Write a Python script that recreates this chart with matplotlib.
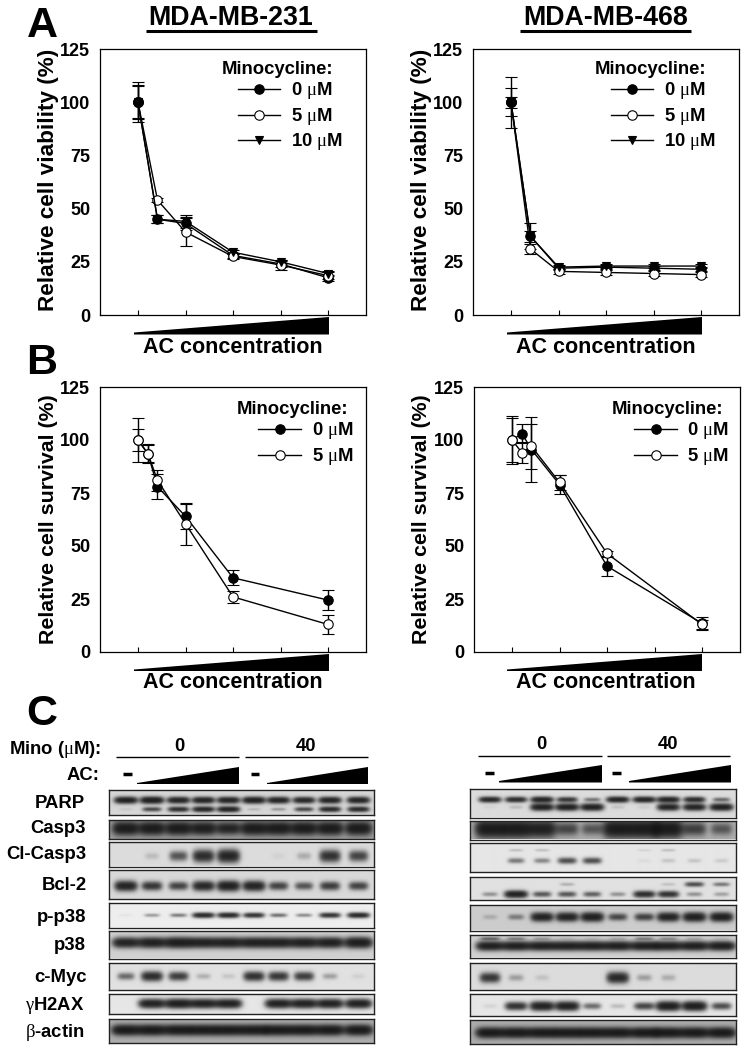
import numpy as np
import matplotlib
matplotlib.use("Agg")
import matplotlib.pyplot as plt
from matplotlib.patches import Polygon

plt.rcParams['font.family'] = ['Liberation Sans', 'DejaVu Sans']
plt.rcParams['font.weight'] = 'bold'
plt.rcParams['mathtext.fontset'] = 'custom'
plt.rcParams['mathtext.rm'] = 'Liberation Sans:bold'
plt.rcParams['mathtext.it'] = 'Liberation Serif:weight=normal'
plt.rcParams['mathtext.bf'] = 'Liberation Sans:bold'

W, H = 746, 1050

# ---- panel A, x is position along the AC ramp
x_a = [0, 0.41, 1, 2, 3, 4]
a231_0 = [100, 45, 43, 28, 24, 17.5]
a231_0_err = [9.5, 2, 3, 1, 1.5, 1.5]
a231_5 = [100, 54, 39, 27.5, 23.5, 18.5]
a231_5_err = [7.5, 1, 6.5, 1, 2.5, 1.5]
a231_10 = [100, 45, 44, 29.5, 25, 19.5]
a231_10_err = [8, 2, 3, 1, 1, 1]

a468_0 = [100, 37, 22, 22.5, 22, 21.5]
a468_0_err = [12, 6, 1, 1, 1, 1]
a468_5 = [100, 31, 20.5, 20, 19.5, 19]
a468_5_err = [6.5, 2.5, 1, 1, 1, 1]
a468_10 = [100, 37, 22.5, 23, 23, 23]
a468_10_err = [2.5, 2.5, 1, 1, 1, 1]

# ---- panel B
x_b = [0, 0.21, 0.41, 1, 2, 4]
b231_0 = [100, 93.5, 78, 64, 35, 24.5]
b231_0_err = [5, 4.5, 6, 6, 3.5, 4.7]
b231_5 = [100, 93.5, 81, 60.5, 26, 13]
b231_5_err = [10.5, 4, 5, 10, 3, 4.3]

b468_0 = [100, 103, 95.5, 79, 40.5, 13.5]
b468_0_err = [11.5, 4.5, 15.5, 4.5, 4.5, 3]
b468_5 = [100, 94, 97, 80, 46.5, 13]
b468_5_err = [10.5, 5, 10.5, 3.5, 1, 2]

yticks = [0, 25, 50, 75, 100, 125]

# ---- panel C, band strength per lane (10 lanes)
l_parp_up = [.95, 1, .9, .9, .9, .95, .9, .85, .9, .9]
l_parp_lo = [.05, .55, .75, .85, .9, .1, .2, .55, .8, .8]
l_casp3 = [.95, .95, .95, .9, .8, .95, .95, .95, .95, .95]
l_clcasp3 = [0, .1, .5, .8, .9, 0, .03, .15, .75, .6]
l_bcl2 = [.9, .7, .6, .85, .95, .9, .6, .5, .65, .6]
l_pp38 = [.03, .25, .35, .85, .85, .75, .4, .3, .75, .85]
l_p38 = [.9, .95, 1, .95, .95, .95, .95, .95, .95, 1]
l_myc = [.4, .8, .65, .15, .08, .75, .7, .65, .2, .05]
l_h2ax = [0, .95, 1, .95, .95, 0, .95, .95, .95, .95]
l_actin = [1, 1, 1, 1, 1, 1, 1, 1, 1, 1]

r_parp_up = [.85, .8, .9, .7, .35, .9, .9, .9, .8, .4]
r_parp_lo = [.03, .1, .95, .95, .95, .08, .05, .9, .9, .95]
r_casp3 = [1, 1, .9, .5, .4, 1, 1, 1, .55, .4]
r_clcasp3 = [0, .35, .3, .55, .55, 0, .03, .1, .1, .08]
r_clcasp3_up = [0, .12, .12, 0, 0, 0, .06, .12, 0, 0]
r_bcl2 = [.25, .95, .5, .5, .45, .25, .8, .75, .25, .2]
r_bcl2_up = [0, 0, 0, .15, 0, 0, 0, .1, .55, .35]
r_pp38 = [.12, .3, .9, .9, .95, .55, .6, .9, .95, .95]
r_p38 = [.95, .95, .95, .95, .95, .95, .95, .95, .95, .95]
r_p38_up = [.35, .25, .15, .05, .05, .1, .25, .2, .1, .05]
r_myc = [.7, .2, .08, 0, 0, .85, .2, .15, 0, 0]
r_h2ax = [.05, .75, .95, .95, .4, .12, .6, 1, 1, .55]
r_actin = [1, 1, 1, 1, 1, 1, 1, 1, 1, 1]

row_labels = ['PARP', 'Casp3', 'Cl-Casp3', 'Bcl-2', 'p-p38', 'p38', 'c-Myc',
              r'$\gamma$H2AX', r'$\beta$-actin']


fig = plt.figure(figsize=(W / 100, H / 100), dpi=100, facecolor='white')


def px_axes(left, top, right, bottom, **kw):
    return fig.add_axes([left / W, 1 - bottom / H, (right - left) / W, (bottom - top) / H], **kw)


# overlay in pixel coordinates for the labels, wedges and rules
ov = fig.add_axes([0, 0, 1, 1], zorder=5)
ov.set_xlim(0, W)
ov.set_ylim(H, 0)
ov.axis('off')
ov.patch.set_alpha(0)


def label(x, y, s, **kw):
    # text box centre sits a bit above the glyphs, so nudge it down
    kw.setdefault('va', 'center')
    kw.setdefault('fontsize', 13.3)
    ov.text(x, y + 1.7, s, **kw)


def wedge(x0, x1, y_tip, y_top, y_bot):
    ov.add_patch(Polygon([(x0, y_tip), (x1, y_top), (x1, y_bot), (x0, y_bot)], fc='black', ec='none'))


def curve_panel(left, top, right, bottom, x, series, ylabel, ylabel_x, ylabel_y, ylabel_size,
                black_first=False):
    ax = px_axes(left, top, right, bottom)
    ax.set_xlim(-0.8, 4.8)
    ax.set_ylim(0, 125)
    for y, err, marker, face in series:
        ax.errorbar(x, y, yerr=err, color='black', lw=1.0, elinewidth=1.0, capsize=4, capthick=1.0,
                    marker=marker, ms=6.8 if marker == 'o' else 6, mfc=face, mec='black', mew=0.8,
                    clip_on=False)
    if black_first:
        # at the first dose the filled circle covers the open one
        ax.plot(x[0], series[0][0][0], marker='o', ms=6.8, mfc='black', mec='black', zorder=5)
    ax.set_xticks([0, 1, 2, 3, 4])
    ax.set_xticklabels([])
    ax.tick_params(axis='x', direction='in', length=3.8, width=0.8)
    ax.set_yticks(yticks)
    ax.tick_params(axis='y', length=0, pad=7, labelsize=13)
    for s in ax.spines.values():
        s.set_linewidth(0.9)
    ov.text(ylabel_x, ylabel_y, ylabel, rotation=90, ha='center', va='center', fontsize=ylabel_size)
    return ax


def legend_block(head_x, head_y, line_x0, line_x1, text_x, rows):
    label(head_x, head_y, 'Minocycline:', ha='left')
    for s, y, marker, face in rows:
        ov.plot([line_x0, line_x1], [y, y], color='black', lw=1.0)
        ov.plot([(line_x0 + line_x1) / 2], [y], marker=marker, ms=6.8 if marker == 'o' else 6,
                mfc=face, mec='black', mew=0.8)
        label(text_x, y, s, ha='left')


series_a231 = [(a231_0, a231_0_err, 'o', 'black'), (a231_5, a231_5_err, 'o', 'white'),
               (a231_10, a231_10_err, 'v', 'black')]
series_a468 = [(a468_0, a468_0_err, 'o', 'black'), (a468_5, a468_5_err, 'o', 'white'),
               (a468_10, a468_10_err, 'v', 'black')]
series_b231 = [(b231_0, b231_0_err, 'o', 'black'), (b231_5, b231_5_err, 'o', 'white')]
series_b468 = [(b468_0, b468_0_err, 'o', 'black'), (b468_5, b468_5_err, 'o', 'white')]

curve_panel(100, 49, 366, 315, x_a, series_a231, 'Relative cell viability (%)', 49, 180, 16.2, True)
curve_panel(473, 49, 739, 315, x_a, series_a468, 'Relative cell viability (%)', 421.5, 180, 16.2, True)
curve_panel(100, 387, 366, 652, x_b, series_b231, 'Relative cell survival (%)', 49, 519.5, 15.4)
curve_panel(474, 387, 740, 652, x_b, series_b468, 'Relative cell survival (%)', 421.5, 519.5, 15.4)

mu0, mu5, mu10 = r'0 $\mu$M', r'5 $\mu$M', r'10 $\mu$M'
rows3 = [(mu0, 89, 'o', 'black'), (mu5, 114.5, 'o', 'white'), (mu10, 140, 'v', 'black')]
legend_block(222, 68, 238, 280, 291, rows3)
legend_block(595, 68, 611, 653, 664, rows3)
rows2 = [(mu0, 429, 'o', 'black'), (mu5, 454.5, 'o', 'white')]
legend_block(237, 408, 258, 301, 312, rows2)
legend_block(612, 408, 634, 677, 687, rows2)

# titles and panel letters
for cx, name, x0, x1 in [(231, 'MDA-MB-231', 146, 317), (606, 'MDA-MB-468', 520, 691)]:
    label(cx, 16, name, ha='center', fontsize=19.3)
    ov.plot([x0, x1], [30.5, 30.5], color='black', lw=2.2, solid_capstyle='butt')
label(42, 24, 'A', ha='center', fontsize=31)
label(42, 361, 'B', ha='center', fontsize=31)
label(42, 712, 'C', ha='center', fontsize=31)

# AC ramps under the curve panels
wedge(134, 329, 332.5, 317, 334.5)
wedge(507, 702, 332.5, 317, 334.5)
wedge(134, 329, 669.5, 654, 671)
wedge(507, 702, 669.5, 654, 671)
for cx, cy in [(233, 346), (606, 346), (233, 681), (606, 681)]:
    label(cx, cy, 'AC concentration', ha='center', fontsize=15.5)


def blot(left, top, right, bottom, lanes, bands, bg, thick=1.0):
    # lanes in px from left edge, bands = (y fraction, strengths, half height px)
    ss = 2
    w = int(round((right - left) * ss))
    h = int(round((bottom - top) * ss))
    xx = (np.arange(w) + 0.5) / ss
    yy = (np.arange(h) + 0.5) / ss
    X, Y = np.meshgrid(xx, yy)
    dark = np.zeros_like(X)
    for yf, strengths, half_h in bands:
        for xc, s in zip(lanes, strengths):
            wx = 11.5 * (0.55 + 0.45 * s) * thick
            wy = half_h * (0.45 + 0.55 * s)
            dark += 1.6 * s * np.exp(-((X - xc) / wx) ** 4) * np.exp(-((Y - yf * (bottom - top)) / wy) ** 2)
    img = bg + (0.06 - bg) * np.tanh(dark)
    ax = px_axes(left, top, right, bottom)
    ax.imshow(img, cmap='gray', vmin=0, vmax=1, aspect='auto', interpolation='bilinear')
    ax.set_xticks([])
    ax.set_yticks([])
    for s in ax.spines.values():
        s.set_linewidth(1.0)
        s.set_color('#222222')


lanes_l = [17, 43, 69.5, 94.5, 119.5, 145, 169.5, 195, 221, 249.5]
lanes_r = [20, 46, 72, 97, 122, 147.5, 174, 198, 224, 251]

blot(109, 790, 374, 815, lanes_l, [(.43, l_parp_up, 3.2), (.78, l_parp_lo, 2.8)], .84)
blot(109, 819.5, 374, 838.5, lanes_l, [(.44, l_casp3, 6.5)], .62, 1.15)
blot(109, 842, 374, 866.5, lanes_l, [(.6, l_clcasp3, 6.5)], .86)
blot(109, 870, 374, 898.5, lanes_l, [(.55, l_bcl2, 5)], .85)
blot(109, 902.5, 374, 927.5, lanes_l, [(.53, l_pp38, 2.8)], .93)
blot(109, 930.5, 374, 958.5, lanes_l, [(.47, l_p38, 5)], .82, 1.2)
blot(109, 962.5, 374, 989.5, lanes_l, [(.51, l_myc, 5)], .88)
blot(109, 994, 374, 1014, lanes_l, [(.48, l_h2ax, 4.5)], .9, 1.15)
blot(109, 1018.5, 374, 1042.5, lanes_l, [(.46, l_actin, 5)], .68, 1.2)

blot(469.5, 788.5, 736, 817.5, lanes_r, [(.40, r_parp_up, 3), (.66, r_parp_lo, 3.5)], .86)
blot(469.5, 820.5, 736, 839.5, lanes_r, [(.47, r_casp3, 8.5)], .68, 1.25)
blot(469.5, 843, 736, 872, lanes_r, [(.61, r_clcasp3, 4), (.25, r_clcasp3_up, 2.5)], .9)
blot(469.5, 877, 736, 899.5, lanes_r, [(.75, r_bcl2, 3.5), (.32, r_bcl2_up, 3)], .88)
blot(469.5, 904.5, 736, 930.5, lanes_r, [(.5, r_pp38, 4.5)], .8)
blot(469.5, 935, 736, 957.5, lanes_r, [(.52, r_p38, 4.5), (.2, r_p38_up, 2.5)], .82, 1.2)
blot(469.5, 962.5, 736, 989.5, lanes_r, [(.56, r_myc, 5.5)], .86)
blot(469.5, 994, 736, 1016, lanes_r, [(.55, r_h2ax, 4.5)], .9, 1.05)
blot(469.5, 1020, 736, 1044, lanes_r, [(.53, r_actin, 5)], .68, 1.2)

# panel C headers
label(101, 748, r'Mino ($\mu$M):', ha='right')
label(99, 774, 'AC:', ha='right')
for cx, cy, s in [(179, 745, '0'), (306, 745, '40'), (541, 743, '0'), (668, 743, '40')]:
    label(cx, cy, s, ha='center')
for x0, x1, y in [(116, 239, 757), (245, 368, 757), (478, 602, 756), (607, 730, 756)]:
    ov.plot([x0, x1], [y, y], color='black', lw=1.0, solid_capstyle='butt')
for x0, x1, y in [(123, 132, 774), (251, 259, 774), (485, 494, 773), (612, 621, 773)]:
    ov.plot([x0, x1], [y, y], color='black', lw=2.5, solid_capstyle='butt')
wedge(137, 239, 783, 767, 784)
wedge(267, 368, 783, 767, 784)
wedge(499, 602, 781, 765, 782.5)
wedge(629, 731, 781, 765, 782.5)

label_right = [85, 86, 86, 87, 86, 86, 87, 84, 85]
label_y = [802, 827, 853, 884, 916, 944, 976, 1004, 1031]
for s, rx, y in zip(row_labels, label_right, label_y):
    label(rx, y, s, ha='right')

ov.set_xlim(0, W)
ov.set_ylim(H, 0)
fig.savefig('out.png', dpi=100, facecolor='white')
